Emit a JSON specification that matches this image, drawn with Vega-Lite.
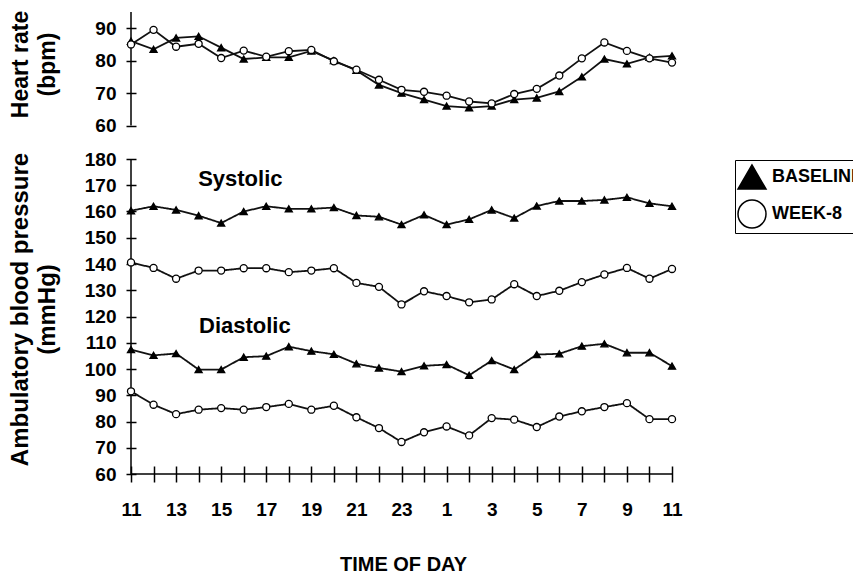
{
  "$schema": "https://vega.github.io/schema/vega-lite/v6.json",
  "background": "white",
  "padding": {"left": 8, "top": 10, "right": 0, "bottom": 0},
  "spacing": 14,
  "resolve": {"legend": {"fill": "independent", "shape": "independent"}},
  "config": {
    "view": {"stroke": null},
    "font": "Liberation Sans",
    "axis": {
      "grid": false,
      "domain": false,
      "labelFont": "Liberation Sans",
      "labelFontWeight": "bold",
      "labelFontSize": 19,
      "labelColor": "black",
      "labelOverlap": false,
      "tickColor": "black",
      "tickWidth": 1.5,
      "titleFont": "Liberation Sans",
      "titleFontWeight": "bold",
      "titleColor": "black"
    }
  },
  "datasets": {
    "hr": [
      {"hour": 0, "series": "BASELINE", "hr": 86}, {"hour": 1, "series": "BASELINE", "hr": 83.5},
      {"hour": 2, "series": "BASELINE", "hr": 87}, {"hour": 3, "series": "BASELINE", "hr": 87.5},
      {"hour": 4, "series": "BASELINE", "hr": 84}, {"hour": 5, "series": "BASELINE", "hr": 80.5},
      {"hour": 6, "series": "BASELINE", "hr": 81}, {"hour": 7, "series": "BASELINE", "hr": 81},
      {"hour": 8, "series": "BASELINE", "hr": 83}, {"hour": 9, "series": "BASELINE", "hr": 80},
      {"hour": 10, "series": "BASELINE", "hr": 77}, {"hour": 11, "series": "BASELINE", "hr": 72.5},
      {"hour": 12, "series": "BASELINE", "hr": 70}, {"hour": 13, "series": "BASELINE", "hr": 68},
      {"hour": 14, "series": "BASELINE", "hr": 66}, {"hour": 15, "series": "BASELINE", "hr": 65.5},
      {"hour": 16, "series": "BASELINE", "hr": 66}, {"hour": 17, "series": "BASELINE", "hr": 68},
      {"hour": 18, "series": "BASELINE", "hr": 68.5}, {"hour": 19, "series": "BASELINE", "hr": 70.5},
      {"hour": 20, "series": "BASELINE", "hr": 75}, {"hour": 21, "series": "BASELINE", "hr": 80.5},
      {"hour": 22, "series": "BASELINE", "hr": 79}, {"hour": 23, "series": "BASELINE", "hr": 81},
      {"hour": 24, "series": "BASELINE", "hr": 81.5},
      {"hour": 0, "series": "WEEK-8", "hr": 85}, {"hour": 1, "series": "WEEK-8", "hr": 89.5},
      {"hour": 2, "series": "WEEK-8", "hr": 84.3}, {"hour": 3, "series": "WEEK-8", "hr": 85.2},
      {"hour": 4, "series": "WEEK-8", "hr": 80.8}, {"hour": 5, "series": "WEEK-8", "hr": 83.1},
      {"hour": 6, "series": "WEEK-8", "hr": 81.2}, {"hour": 7, "series": "WEEK-8", "hr": 82.9},
      {"hour": 8, "series": "WEEK-8", "hr": 83.3}, {"hour": 9, "series": "WEEK-8", "hr": 79.8},
      {"hour": 10, "series": "WEEK-8", "hr": 77.2}, {"hour": 11, "series": "WEEK-8", "hr": 74.1},
      {"hour": 12, "series": "WEEK-8", "hr": 71}, {"hour": 13, "series": "WEEK-8", "hr": 70.4},
      {"hour": 14, "series": "WEEK-8", "hr": 69.2}, {"hour": 15, "series": "WEEK-8", "hr": 67.4},
      {"hour": 16, "series": "WEEK-8", "hr": 66.8}, {"hour": 17, "series": "WEEK-8", "hr": 69.7},
      {"hour": 18, "series": "WEEK-8", "hr": 71.3}, {"hour": 19, "series": "WEEK-8", "hr": 75.4},
      {"hour": 20, "series": "WEEK-8", "hr": 80.7}, {"hour": 21, "series": "WEEK-8", "hr": 85.6},
      {"hour": 22, "series": "WEEK-8", "hr": 83}, {"hour": 23, "series": "WEEK-8", "hr": 80.7},
      {"hour": 24, "series": "WEEK-8", "hr": 79.4}
    ],
    "bp": [
      {"hour": 0, "series": "BASELINE", "measure": "Systolic", "bp": 160.3}, {"hour": 1, "series": "BASELINE", "measure": "Systolic", "bp": 162},
      {"hour": 2, "series": "BASELINE", "measure": "Systolic", "bp": 160.6}, {"hour": 3, "series": "BASELINE", "measure": "Systolic", "bp": 158.4},
      {"hour": 4, "series": "BASELINE", "measure": "Systolic", "bp": 155.6}, {"hour": 5, "series": "BASELINE", "measure": "Systolic", "bp": 160},
      {"hour": 6, "series": "BASELINE", "measure": "Systolic", "bp": 162}, {"hour": 7, "series": "BASELINE", "measure": "Systolic", "bp": 161},
      {"hour": 8, "series": "BASELINE", "measure": "Systolic", "bp": 161}, {"hour": 9, "series": "BASELINE", "measure": "Systolic", "bp": 161.5},
      {"hour": 10, "series": "BASELINE", "measure": "Systolic", "bp": 158.5}, {"hour": 11, "series": "BASELINE", "measure": "Systolic", "bp": 158},
      {"hour": 12, "series": "BASELINE", "measure": "Systolic", "bp": 155}, {"hour": 13, "series": "BASELINE", "measure": "Systolic", "bp": 158.7},
      {"hour": 14, "series": "BASELINE", "measure": "Systolic", "bp": 155}, {"hour": 15, "series": "BASELINE", "measure": "Systolic", "bp": 157},
      {"hour": 16, "series": "BASELINE", "measure": "Systolic", "bp": 160.6}, {"hour": 17, "series": "BASELINE", "measure": "Systolic", "bp": 157.5},
      {"hour": 18, "series": "BASELINE", "measure": "Systolic", "bp": 162.1}, {"hour": 19, "series": "BASELINE", "measure": "Systolic", "bp": 164},
      {"hour": 20, "series": "BASELINE", "measure": "Systolic", "bp": 164}, {"hour": 21, "series": "BASELINE", "measure": "Systolic", "bp": 164.4},
      {"hour": 22, "series": "BASELINE", "measure": "Systolic", "bp": 165.4}, {"hour": 23, "series": "BASELINE", "measure": "Systolic", "bp": 163.1},
      {"hour": 24, "series": "BASELINE", "measure": "Systolic", "bp": 162},
      {"hour": 0, "series": "WEEK-8", "measure": "Systolic", "bp": 140.6}, {"hour": 1, "series": "WEEK-8", "measure": "Systolic", "bp": 138.5},
      {"hour": 2, "series": "WEEK-8", "measure": "Systolic", "bp": 134.4}, {"hour": 3, "series": "WEEK-8", "measure": "Systolic", "bp": 137.5},
      {"hour": 4, "series": "WEEK-8", "measure": "Systolic", "bp": 137.5}, {"hour": 5, "series": "WEEK-8", "measure": "Systolic", "bp": 138.4},
      {"hour": 6, "series": "WEEK-8", "measure": "Systolic", "bp": 138.4}, {"hour": 7, "series": "WEEK-8", "measure": "Systolic", "bp": 136.9},
      {"hour": 8, "series": "WEEK-8", "measure": "Systolic", "bp": 137.5}, {"hour": 9, "series": "WEEK-8", "measure": "Systolic", "bp": 138.4},
      {"hour": 10, "series": "WEEK-8", "measure": "Systolic", "bp": 132.8}, {"hour": 11, "series": "WEEK-8", "measure": "Systolic", "bp": 131.3},
      {"hour": 12, "series": "WEEK-8", "measure": "Systolic", "bp": 124.6}, {"hour": 13, "series": "WEEK-8", "measure": "Systolic", "bp": 129.6},
      {"hour": 14, "series": "WEEK-8", "measure": "Systolic", "bp": 127.8}, {"hour": 15, "series": "WEEK-8", "measure": "Systolic", "bp": 125.4},
      {"hour": 16, "series": "WEEK-8", "measure": "Systolic", "bp": 126.5}, {"hour": 17, "series": "WEEK-8", "measure": "Systolic", "bp": 132.3},
      {"hour": 18, "series": "WEEK-8", "measure": "Systolic", "bp": 127.8}, {"hour": 19, "series": "WEEK-8", "measure": "Systolic", "bp": 129.8},
      {"hour": 20, "series": "WEEK-8", "measure": "Systolic", "bp": 133.1}, {"hour": 21, "series": "WEEK-8", "measure": "Systolic", "bp": 136},
      {"hour": 22, "series": "WEEK-8", "measure": "Systolic", "bp": 138.5}, {"hour": 23, "series": "WEEK-8", "measure": "Systolic", "bp": 134.4},
      {"hour": 24, "series": "WEEK-8", "measure": "Systolic", "bp": 138.1},
      {"hour": 0, "series": "BASELINE", "measure": "Diastolic", "bp": 107.4}, {"hour": 1, "series": "BASELINE", "measure": "Diastolic", "bp": 105.2},
      {"hour": 2, "series": "BASELINE", "measure": "Diastolic", "bp": 105.9}, {"hour": 3, "series": "BASELINE", "measure": "Diastolic", "bp": 99.8},
      {"hour": 4, "series": "BASELINE", "measure": "Diastolic", "bp": 99.8}, {"hour": 5, "series": "BASELINE", "measure": "Diastolic", "bp": 104.5},
      {"hour": 6, "series": "BASELINE", "measure": "Diastolic", "bp": 104.9}, {"hour": 7, "series": "BASELINE", "measure": "Diastolic", "bp": 108.5},
      {"hour": 8, "series": "BASELINE", "measure": "Diastolic", "bp": 106.8}, {"hour": 9, "series": "BASELINE", "measure": "Diastolic", "bp": 105.6},
      {"hour": 10, "series": "BASELINE", "measure": "Diastolic", "bp": 102}, {"hour": 11, "series": "BASELINE", "measure": "Diastolic", "bp": 100.4},
      {"hour": 12, "series": "BASELINE", "measure": "Diastolic", "bp": 99}, {"hour": 13, "series": "BASELINE", "measure": "Diastolic", "bp": 101.2},
      {"hour": 14, "series": "BASELINE", "measure": "Diastolic", "bp": 101.7}, {"hour": 15, "series": "BASELINE", "measure": "Diastolic", "bp": 97.6},
      {"hour": 16, "series": "BASELINE", "measure": "Diastolic", "bp": 103.2}, {"hour": 17, "series": "BASELINE", "measure": "Diastolic", "bp": 99.8},
      {"hour": 18, "series": "BASELINE", "measure": "Diastolic", "bp": 105.5}, {"hour": 19, "series": "BASELINE", "measure": "Diastolic", "bp": 105.8},
      {"hour": 20, "series": "BASELINE", "measure": "Diastolic", "bp": 108.7}, {"hour": 21, "series": "BASELINE", "measure": "Diastolic", "bp": 109.6},
      {"hour": 22, "series": "BASELINE", "measure": "Diastolic", "bp": 106.2}, {"hour": 23, "series": "BASELINE", "measure": "Diastolic", "bp": 106.2},
      {"hour": 24, "series": "BASELINE", "measure": "Diastolic", "bp": 101.1},
      {"hour": 0, "series": "WEEK-8", "measure": "Diastolic", "bp": 91.5}, {"hour": 1, "series": "WEEK-8", "measure": "Diastolic", "bp": 86.4},
      {"hour": 2, "series": "WEEK-8", "measure": "Diastolic", "bp": 82.8}, {"hour": 3, "series": "WEEK-8", "measure": "Diastolic", "bp": 84.5},
      {"hour": 4, "series": "WEEK-8", "measure": "Diastolic", "bp": 85.1}, {"hour": 5, "series": "WEEK-8", "measure": "Diastolic", "bp": 84.5},
      {"hour": 6, "series": "WEEK-8", "measure": "Diastolic", "bp": 85.5}, {"hour": 7, "series": "WEEK-8", "measure": "Diastolic", "bp": 86.7},
      {"hour": 8, "series": "WEEK-8", "measure": "Diastolic", "bp": 84.5}, {"hour": 9, "series": "WEEK-8", "measure": "Diastolic", "bp": 86},
      {"hour": 10, "series": "WEEK-8", "measure": "Diastolic", "bp": 81.6}, {"hour": 11, "series": "WEEK-8", "measure": "Diastolic", "bp": 77.5},
      {"hour": 12, "series": "WEEK-8", "measure": "Diastolic", "bp": 72.2}, {"hour": 13, "series": "WEEK-8", "measure": "Diastolic", "bp": 75.9},
      {"hour": 14, "series": "WEEK-8", "measure": "Diastolic", "bp": 78.1}, {"hour": 15, "series": "WEEK-8", "measure": "Diastolic", "bp": 74.7},
      {"hour": 16, "series": "WEEK-8", "measure": "Diastolic", "bp": 81.3}, {"hour": 17, "series": "WEEK-8", "measure": "Diastolic", "bp": 80.7},
      {"hour": 18, "series": "WEEK-8", "measure": "Diastolic", "bp": 77.9}, {"hour": 19, "series": "WEEK-8", "measure": "Diastolic", "bp": 81.9},
      {"hour": 20, "series": "WEEK-8", "measure": "Diastolic", "bp": 83.9}, {"hour": 21, "series": "WEEK-8", "measure": "Diastolic", "bp": 85.5},
      {"hour": 22, "series": "WEEK-8", "measure": "Diastolic", "bp": 87}, {"hour": 23, "series": "WEEK-8", "measure": "Diastolic", "bp": 80.9},
      {"hour": 24, "series": "WEEK-8", "measure": "Diastolic", "bp": 80.9}
    ],
    "labels": [
      {"hour": 4.85, "bp": 172.5, "label": "Systolic"},
      {"hour": 5.05, "bp": 116.3, "label": "Diastolic"}
    ]
  },
  "vconcat": [
    {
      "width": 541,
      "height": 113.5,
      "layer": [
        {
          "data": {"values": [{}]},
          "mark": {"type": "rule", "color": "black", "strokeWidth": 1.5},
          "encoding": {
            "x": {"datum": 0, "type": "quantitative", "scale": {"domain": [0, 24], "nice": false, "zero": false}, "axis": null}
          }
        },
        {
          "data": {"name": "hr"},
          "encoding": {
            "x": {"field": "hour", "type": "quantitative", "scale": {"domain": [0, 24], "nice": false, "zero": false}, "axis": null},
            "y": {
              "field": "hr", "type": "quantitative",
              "scale": {"domain": [60, 95], "nice": false, "zero": false},
              "axis": {
                "values": [60, 70, 80, 90], "offset": -5, "tickSize": 10, "labelPadding": 10,
                "labelFontSize": 19, "labelOverlap": false, "labelSeparation": -100,
                "title": ["Heart rate", "(bpm)"], "titleFontSize": 23, "titleLineHeight": 27,
                "titleAngle": -90, "titleAlign": "center", "titleBaseline": "bottom", "titleX": -104, "titleY": 52
              }
            }
          },
          "layer": [
            {
              "mark": {"type": "line", "color": "#111111", "strokeWidth": 1.8},
              "encoding": {"detail": {"field": "series"}}
            },
            {
              "mark": {"type": "point", "filled": true, "stroke": "black", "strokeWidth": 1.3, "size": 50, "opacity": 1},
              "encoding": {
                "shape": {"field": "series", "type": "nominal", "scale": {"domain": ["BASELINE", "WEEK-8"], "range": ["triangle-up", "circle"]}, "legend": null},
                "fill": {"field": "series", "type": "nominal", "scale": {"domain": ["BASELINE", "WEEK-8"], "range": ["black", "white"]}, "legend": null}
              }
            }
          ]
        }
      ]
    },
    {
      "width": 541,
      "height": 315,
      "layer": [
        {
          "data": {"values": [{}]},
          "mark": {"type": "rule", "color": "black", "strokeWidth": 1.5},
          "encoding": {
            "x": {
              "datum": 0, "type": "quantitative", "scale": {"domain": [0, 24], "nice": false, "zero": false},
              "axis": {
                "values": [0, 1, 2, 3, 4, 5, 6, 7, 8, 9, 10, 11, 12, 13, 14, 15, 16, 17, 18, 19, 20, 21, 22, 23, 24],
                "labelExpr": "datum.value % 2 == 0 ? '' + ((11 + datum.value) % 24) : ''",
                "offset": -8, "tickSize": 16, "labelPadding": 18, "labelFlush": false, "labelOverlap": false,
                "labelFontSize": 19,
                "title": "TIME OF DAY", "titleFont": "Liberation Sans",
                "titleFontSize": 20, "titleX": 272, "titleY": 88, "titleBaseline": "top", "titleAlign": "center"
              }
            }
          }
        },
        {
          "data": {"values": [{}]},
          "mark": {"type": "rule", "color": "black", "strokeWidth": 1.5},
          "encoding": {
            "y": {
              "datum": 60, "type": "quantitative", "scale": {"domain": [60, 180], "nice": false, "zero": false},
              "axis": {
                "values": [60, 70, 80, 90, 100, 110, 120, 130, 140, 150, 160, 170, 180],
                "offset": -5, "tickSize": 10, "labelPadding": 10,
                "labelFontSize": 19, "labelOverlap": false, "labelSeparation": -100,
                "title": ["Ambulatory blood pressure", "(mmHg)"], "titleFontSize": 24, "titleLineHeight": 27,
                "titleAngle": -90, "titleAlign": "center", "titleBaseline": "bottom", "titleX": -104, "titleY": 150
              }
            }
          }
        },
        {
          "data": {"name": "bp"},
          "encoding": {
            "x": {
              "field": "hour", "type": "quantitative",
              "scale": {"domain": [0, 24], "nice": false, "zero": false},
              "axis": {
                "values": [0, 1, 2, 3, 4, 5, 6, 7, 8, 9, 10, 11, 12, 13, 14, 15, 16, 17, 18, 19, 20, 21, 22, 23, 24],
                "labelExpr": "datum.value % 2 == 0 ? '' + ((11 + datum.value) % 24) : ''",
                "offset": -8, "tickSize": 16, "labelPadding": 18, "labelFlush": false, "labelOverlap": false,
                "labelFontSize": 19,
                "title": "TIME OF DAY", "titleFont": "Liberation Sans",
                "titleFontSize": 20, "titleX": 272, "titleY": 88, "titleBaseline": "top", "titleAlign": "center"
              }
            },
            "y": {
              "field": "bp", "type": "quantitative",
              "scale": {"domain": [60, 180], "nice": false, "zero": false},
              "axis": {
                "values": [60, 70, 80, 90, 100, 110, 120, 130, 140, 150, 160, 170, 180],
                "offset": -5, "tickSize": 10, "labelPadding": 10,
                "labelFontSize": 19, "labelOverlap": false, "labelSeparation": -100,
                "title": ["Ambulatory blood pressure", "(mmHg)"], "titleFontSize": 24, "titleLineHeight": 27,
                "titleAngle": -90, "titleAlign": "center", "titleBaseline": "bottom", "titleX": -104, "titleY": 150
              }
            }
          },
          "layer": [
            {
              "mark": {"type": "line", "color": "#111111", "strokeWidth": 1.8},
              "encoding": {"detail": {"field": "series"}, "strokeDash": {"field": "measure", "legend": null, "scale": {"range": [[1, 0], [1, 0]]}}}
            },
            {
              "mark": {"type": "point", "filled": true, "stroke": "black", "strokeWidth": 1.3, "size": 50, "opacity": 1},
              "encoding": {
                "shape": {
                  "field": "series", "type": "nominal",
                  "scale": {"domain": ["BASELINE", "WEEK-8"], "range": ["triangle-up", "circle"]},
                  "legend": {
                    "title": null, "orient": "none", "legendX": 604, "legendY": 1,
                    "strokeColor": "black", "padding": 2, "symbolSize": 784, "rowPadding": 4, "labelOffset": 5,
                    "labelFont": "Liberation Sans", "labelFontSize": 18, "labelFontWeight": "bold", "labelColor": "black",
                    "encode": {
                      "symbols": {
                        "shape": {"condition": {"test": "datum.value === 'BASELINE'", "value": "M-1.07,0L1.07,0M0,-0.28L0.25,0.18L-0.25,0.18Z"}, "value": "M-1.07,0L-0.25,0M0.25,0L1.07,0M0.25,0A0.25,0.25 0 1,1 -0.25,0A0.25,0.25 0 1,1 0.25,0Z"},
                        "stroke": {"value": "black"},
                        "strokeWidth": {"value": 1.5}
                      }
                    }
                  }
                },
                "fill": {
                  "field": "series", "type": "nominal",
                  "scale": {"domain": ["BASELINE", "WEEK-8"], "range": ["black", "white"]},
                  "legend": {
                    "title": null, "orient": "none", "legendX": 604, "legendY": 1,
                    "strokeColor": "black", "padding": 2, "symbolSize": 784, "rowPadding": 4, "labelOffset": 5,
                    "labelFont": "Liberation Sans", "labelFontSize": 18, "labelFontWeight": "bold", "labelColor": "black",
                    "encode": {
                      "symbols": {
                        "shape": {"condition": {"test": "datum.value === 'BASELINE'", "value": "M-1.07,0L1.07,0M0,-0.28L0.25,0.18L-0.25,0.18Z"}, "value": "M-1.07,0L-0.25,0M0.25,0L1.07,0M0.25,0A0.25,0.25 0 1,1 -0.25,0A0.25,0.25 0 1,1 0.25,0Z"},
                        "stroke": {"value": "black"},
                        "strokeWidth": {"value": 1.5}
                      }
                    }
                  }
                }
              }
            },
            {
              "data": {"name": "labels"},
              "mark": {"type": "text", "font": "Liberation Sans", "fontWeight": "bold", "fontSize": 22, "color": "black", "align": "center", "baseline": "middle"},
              "encoding": {
                "text": {"field": "label"}
              }
            }
          ]
        }
      ]
    }
  ]
}
